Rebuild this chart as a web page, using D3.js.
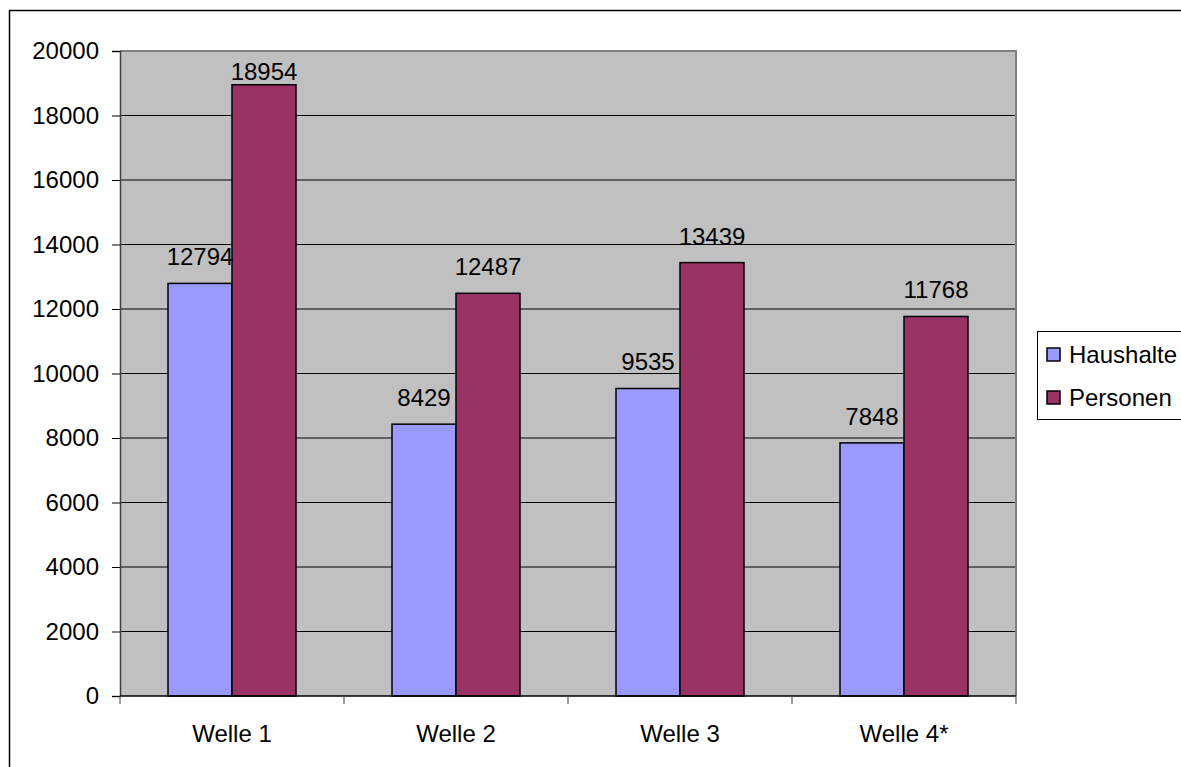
<!DOCTYPE html>
<html>
<head>
<meta charset="utf-8">
<script src="https://cdn.jsdelivr.net/npm/d3@7"></script>
<style>
  body { margin: 0; background: #fff; }
  svg text { font-family: Arial, "Liberation Sans", sans-serif; fill: #000; }
</style>
</head>
<body>
<svg id="chart" width="1181" height="767"></svg>
<script>
// data
const categories = ["Welle 1", "Welle 2", "Welle 3", "Welle 4*"];
const seriesNames = ["Haushalte", "Personen"];
const haushalte = [12794, 8429, 9535, 7848];
const personen = [18954, 12487, 13439, 11768];
const yTicks = [0, 2000, 4000, 6000, 8000, 10000, 12000, 14000, 16000, 18000, 20000];
const colors = ["#9999FF", "#993366"];

const plot = { left: 120, right: 1016, top: 51, bottom: 696 };
const FONT = 24;

const svg = d3.select("#chart");

// outer chart border (runs past the right and bottom edge)
svg.append("rect")
    .attr("x", 9.5).attr("y", 10.5)
    .attr("width", 1200).attr("height", 800)
    .attr("fill", "#fff")
    .attr("stroke", "#000")
    .attr("stroke-width", 1.5);

const x0 = d3.scaleBand()
    .domain(categories)
    .range([plot.left, plot.right]);

// gap width 150% -> outer padding 0.75 of a bar on each side
const x1 = d3.scaleBand()
    .domain(seriesNames)
    .range([0, x0.bandwidth()])
    .paddingOuter(0.75);

const y = d3.scaleLinear()
    .domain([0, 20000])
    .range([plot.bottom, plot.top]);

const color = d3.scaleOrdinal().domain(seriesNames).range(colors);

// plot area background
svg.append("rect")
    .attr("x", plot.left).attr("y", plot.top)
    .attr("width", plot.right - plot.left)
    .attr("height", plot.bottom - plot.top)
    .attr("fill", "#C0C0C0");

// gridlines
svg.append("g")
    .selectAll("line")
    .data(yTicks.filter(d => d > 0 && d < 20000))
    .enter()
    .append("line")
    .attr("x1", plot.left).attr("x2", plot.right)
    .attr("y1", d => y(d)).attr("y2", d => y(d))
    .attr("stroke", "#000")
    .attr("stroke-width", 1);

// plot area frame top & right
svg.append("path")
    .attr("d", `M${plot.left},${plot.top}H${plot.right}V${plot.bottom}`)
    .attr("fill", "none")
    .attr("stroke", "#808080")
    .attr("stroke-width", 2);

// bars
const rows = categories.map((c, i) => ({
    cat: c,
    values: [
        { key: seriesNames[0], value: haushalte[i] },
        { key: seriesNames[1], value: personen[i] }
    ]
}));

const groups = svg.append("g")
    .selectAll("g")
    .data(rows)
    .enter()
    .append("g")
    .attr("transform", d => `translate(${x0(d.cat)},0)`);

groups.selectAll("rect")
    .data(d => d.values)
    .enter()
    .append("rect")
    .attr("x", d => x1(d.key))
    .attr("y", d => y(d.value))
    .attr("width", x1.bandwidth())
    .attr("height", d => y(0) - y(d.value))
    .attr("fill", d => color(d.key))
    .attr("stroke", "#000")
    .attr("stroke-width", 1.5);

// value labels, kept inside the plot area
groups.selectAll("text")
    .data(d => d.values)
    .enter()
    .append("text")
    .attr("x", d => x1(d.key) + x1.bandwidth() / 2)
    .attr("y", d => Math.max(y(d.value) - 18, y(20000) + 29))
    .attr("text-anchor", "middle")
    .style("font-size", FONT + "px")
    .text(d => d.value);

// y axis
const yAxis = svg.append("g")
    .attr("transform", `translate(${plot.left},0)`)
    .call(d3.axisLeft(y).tickValues(yTicks).tickSize(8).tickPadding(13).tickFormat(d3.format("d")));
yAxis.select(".domain").attr("stroke", "#404040").attr("stroke-width", 1.5);
yAxis.selectAll(".tick line").attr("stroke", "#000");
yAxis.selectAll("text").style("font-size", FONT + "px").attr("font-family", null);

// x axis: ticks on category boundaries, labels centred
const xAxis = svg.append("g")
    .attr("transform", `translate(0,${plot.bottom})`);
xAxis.append("line")
    .attr("x1", plot.left).attr("x2", plot.right)
    .attr("stroke", "#000").attr("stroke-width", 1.5);
xAxis.selectAll("line.bound")
    .data(categories.map(c => x0(c)).concat([plot.right]))
    .enter()
    .append("line")
    .attr("class", "bound")
    .attr("x1", d => d).attr("x2", d => d)
    .attr("y1", 0).attr("y2", 8)
    .attr("stroke", "#404040");
xAxis.selectAll("text")
    .data(categories)
    .enter()
    .append("text")
    .attr("x", d => x0(d) + x0.bandwidth() / 2)
    .attr("y", 46)
    .attr("text-anchor", "middle")
    .style("font-size", FONT + "px")
    .text(d => d);

// legend
const legend = svg.append("g")
    .attr("transform", "translate(1037,331)");
legend.append("rect")
    .attr("x", 0.5).attr("y", 0.5)
    .attr("width", 160).attr("height", 88)
    .attr("fill", "#fff")
    .attr("stroke", "#000");
const item = legend.selectAll("g.item")
    .data(seriesNames)
    .enter()
    .append("g")
    .attr("class", "item")
    .attr("transform", (d, i) => `translate(10,${23 + i * 43})`);
item.append("rect")
    .attr("x", 0).attr("y", -6)
    .attr("width", 13).attr("height", 13)
    .attr("fill", d => color(d))
    .attr("stroke", "#000")
    .attr("stroke-width", 1.5);
item.append("text")
    .attr("x", 22).attr("y", 9)
    .style("font-size", FONT + "px")
    .text(d => d);
</script>
</body>
</html>
